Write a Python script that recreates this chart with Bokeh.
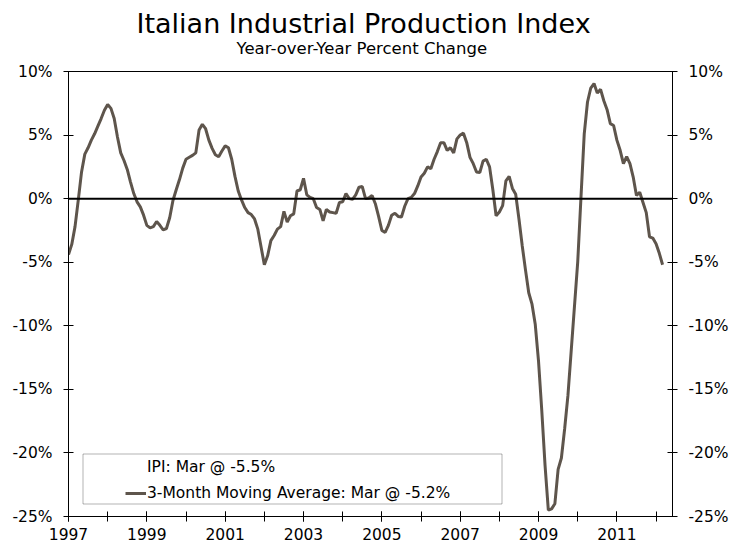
import numpy as np
from bokeh.plotting import figure
from bokeh.models import (Range1d, LinearAxis, FixedTicker, PrintfTickFormatter, Span, Title,
                          Legend, LegendItem, BoxAnnotation, ColumnDataSource)
from bokeh.embed import file_html
from bokeh.resources import INLINE

# ---------------- data ----------------
start_year = 1997            # first observation: January 1997, monthly
title_text = "Italian Industrial Production Index"
subtitle_text = "Year-over-Year Percent Change"
ipi_last = -5.5              # latest IPI reading (Mar)
last_month = "Mar"

# 3-month moving average of year-over-year % change, Jan 1997 .. Mar 2012
ma3 = [
    # 1997
    -4.4, -3.6, -2.2, -0.1, 2.1, 3.5, 4.0, 4.6, 5.1, 5.7, 6.3, 6.95,
    # 1998
    7.4, 7.1, 6.3, 4.85, 3.6, 3.0, 2.3, 1.3, 0.4, -0.25, -0.65, -1.3,
    # 1999
    -2.1, -2.3, -2.2, -1.8, -2.1, -2.45, -2.35, -1.5, -0.15, 0.7, 1.5, 2.4,
    # 2000
    3.1, 3.25, 3.4, 3.6, 5.4, 5.85, 5.5, 4.6, 3.95, 3.45, 3.3, 3.75,
    # 2001
    4.15, 4.0, 3.1, 1.75, 0.6, -0.1, -0.7, -1.1, -1.25, -1.6, -2.4, -3.8,
    # 2002
    -5.2, -4.5, -3.3, -2.9, -2.4, -2.2, -1.0, -1.85, -1.35, -1.2, 0.6, 0.7,
    # 2003
    1.6, 0.3, 0.1, 0.0, -0.7, -0.85, -1.75, -0.85, -1.05, -1.1, -1.15, -0.3,
    # 2004
    -0.25, 0.4, 0.0, -0.05, 0.3, 0.9, 0.95, 0.0, 0.05, 0.25, -0.4, -1.4,
    # 2005
    -2.5, -2.65, -2.1, -1.3, -1.15, -1.4, -1.45, -0.6, 0.0, 0.1, 0.4, 1.0,
    # 2006
    1.7, 2.0, 2.5, 2.35, 3.1, 3.7, 4.4, 4.4, 3.8, 4.0, 3.6, 4.7,
    # 2007
    5.0, 5.15, 4.4, 3.25, 2.75, 2.1, 2.05, 2.95, 3.1, 2.5, 0.7, -1.35,
    # 2008
    -1.05, -0.55, 1.4, 1.75, 0.8, 0.35, -1.6, -3.7, -5.6, -7.4, -8.3, -9.9,
    # 2009
    -12.8, -16.7, -21.0, -24.5, -24.4, -24.0, -21.3, -20.4, -18.1, -15.5, -12.0, -8.5,
    # 2010
    -5.0, 0.1, 5.1, 7.6, 8.7, 9.05, 8.3, 8.6, 7.7, 7.0, 5.9, 5.75,
    # 2011
    4.6, 3.8, 2.75, 3.3, 2.75, 1.7, 0.25, 0.5, -0.3, -1.1, -3.0, -3.1,
    # 2012
    -3.55, -4.3, -5.2,
]
t = [start_year + i / 12 for i in range(len(ma3))]

y_ticks = [-25, -20, -15, -10, -5, 0, 5, 10]
x_label_years = [1997, 1999, 2001, 2003, 2005, 2007, 2009, 2011]
x_all_years = list(range(1997, 2013))

# ---------------- style ----------------
FONT = "DejaVu Sans"
LINE_COLOR = "#5e554c"
TICK_FONT_SIZE = "15.5px"

p = figure(width=734, height=546, output_backend="svg", toolbar_location=None,
           x_range=Range1d(1997, 2012.42), y_range=Range1d(-25, 10),
           min_border_left=68, min_border_right=62, min_border_top=71, min_border_bottom=30,
           title=None, background_fill_color="white", border_fill_color="white")

p.xgrid.visible = False
p.ygrid.visible = False
p.outline_line_color = "black"
p.outline_line_width = 1

src = ColumnDataSource(dict(t=t, v=ma3))
r = p.line(x="t", y="v", source=src, line_color=LINE_COLOR, line_width=3)

p.add_layout(Span(location=0, dimension="width", line_color="black", line_width=2))

# axes
right_axis = LinearAxis()
p.add_layout(right_axis, "right")

for ax in p.yaxis:
    ax.ticker = FixedTicker(ticks=y_ticks, minor_ticks=[])
    ax.formatter = PrintfTickFormatter(format="%d%%")
    ax.major_tick_in = 5
    ax.major_tick_out = 5
    ax.minor_tick_in = 0
    ax.minor_tick_out = 0
    ax.axis_line_color = "black"
    ax.major_tick_line_color = "black"
    ax.major_label_text_font = FONT
    ax.major_label_text_font_size = TICK_FONT_SIZE
    ax.major_label_text_color = "black"
    ax.major_label_standoff = 11

xa = p.xaxis[0]
xa.ticker = FixedTicker(ticks=x_label_years, minor_ticks=x_all_years)
xa.formatter = PrintfTickFormatter(format="%d")
xa.major_tick_in = 5
xa.major_tick_out = 5
xa.minor_tick_in = 5
xa.minor_tick_out = 5
xa.axis_line_color = "black"
xa.major_tick_line_color = "black"
xa.minor_tick_line_color = "black"
xa.major_label_text_font = FONT
xa.major_label_text_font_size = TICK_FONT_SIZE
xa.major_label_text_color = "black"
xa.major_label_standoff = 6

# titles
sub = Title(text=subtitle_text, align="left", offset=168, text_font=FONT,
            text_font_size="16.5px", text_font_style="normal", text_color="black",
            standoff=28)
main = Title(text=title_text, align="left", offset=68, text_font=FONT,
             text_font_size="27px", text_font_style="normal", text_color="black",
             standoff=-32)
p.add_layout(sub, "above")
p.add_layout(main, "above")

# legend
legend = Legend(items=[
    LegendItem(label=f"IPI: {last_month} @ {ipi_last:.1f}%", renderers=[]),
    LegendItem(label=f"3-Month Moving Average: {last_month} @ {ma3[-1]:.1f}%", renderers=[r]),
], location=(57, 13), orientation="vertical",
    border_line_alpha=0, background_fill_alpha=0, padding=0, margin=0, spacing=6,
    label_standoff=1, glyph_width=21, glyph_height=20, label_height=20,
    label_text_font=FONT, label_text_font_size="15.5px", label_text_color="black")
p.add_layout(legend, "center")

p.add_layout(BoxAnnotation(left=14.5, right=433.5, bottom=12.5, top=62.5,
                           left_units="screen", right_units="screen",
                           bottom_units="screen", top_units="screen",
                           fill_alpha=0, line_color="black", line_width=1))

open("out.html", "w").write(file_html(p, INLINE))
